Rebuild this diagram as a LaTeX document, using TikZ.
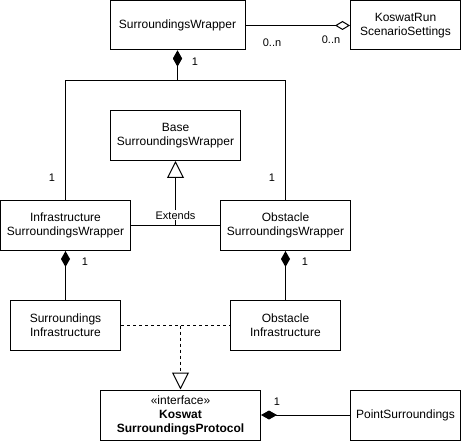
\documentclass[tikz,border=0pt]{standalone}
\usepackage{fontspec}
\setmainfont{Liberation Sans}
\usetikzlibrary{arrows.meta,positioning,calc}
\tikzstyle{cls} = [draw, line width=1pt, align=center, font=\fontsize{12}{14}\selectfont, inner sep=0pt]
\tikzstyle{mult} = [font=\fontsize{11}{13}\selectfont, inner sep=0pt]
\tikzstyle{comp} = [line width=1pt, {Diamond[length=16pt,width=9pt]}-]
\tikzstyle{aggr} = [line width=1pt, -{Diamond[open,length=15pt,width=9pt]}]
\tikzstyle{inh} = [line width=1pt, -{Triangle[open,length=17pt,width=17pt]}]
\tikzstyle{real} = [inh, dash pattern=on 3pt off 3pt]

\begin{document}
\begin{tikzpicture}[x=1pt, y=-1pt]
            \useasboundingbox (0,0) rectangle (461,441);
            \node[cls, minimum width=135pt, minimum height=49pt] (sw) at (177.5,25.5) {SurroundingsWrapper};
            \node[cls, minimum width=110pt, minimum height=49pt] (krs) at (405.5,25.5) {KoswatRun\\ScenarioSettings};
            \node[cls, minimum width=130pt, minimum height=50pt] (base) at (175.5,135.5) {Base\\SurroundingsWrapper};
            \node[cls, minimum width=130pt, minimum height=50pt] (isw) at (65.5,225.5) {Infrastructure\\SurroundingsWrapper};
            \node[cls, minimum width=130pt, minimum height=50pt] (osw) at (285.5,225.5) {Obstacle\\SurroundingsWrapper};
            \node[cls, minimum width=110pt, minimum height=50pt] (si) at (65.5,325.5) {Surroundings\\Infrastructure};
            \node[cls, minimum width=110pt, minimum height=50pt] (oi) at (285.5,325.5) {Obstacle\\Infrastructure};
            \node[cls, minimum width=160pt, minimum height=50pt] (ksp) at (180.5,415) {\guillemotleft interface\guillemotright\\\textbf{Koswat}\\\textbf{SurroundingsProtocol}};
            \node[cls, minimum width=110pt, minimum height=50pt] (ps) at (405.5,415) {PointSurroundings};

            \coordinate (j1) at (177.5,80.5);
            \coordinate (j2) at (175.5,225.5);
            \coordinate (j3) at (180.5,325.5);

            \draw[aggr] (sw) -- (krs);
            \node[mult] (m1) at (272,43) {0..n};
            \node[mult] (m2) at (331,40) {0..n};

            \draw[comp] (sw.south) -- (j1) -| (isw.north);
            \draw[comp] (sw.south) -- (j1) -| (osw.north);
            \node[mult] (m3) at (195,62) {1};
            \node[mult] (m4) at (52,178) {1};
            \node[mult] (m5) at (272,178) {1};

            \draw[line width=1pt] (isw) -- (osw);
            \draw[inh] (j2) -- node[pos=0.16, fill=white, inner sep=1pt, font=\fontsize{11}{13}\selectfont] (ext) {Extends} (base.south);

            \draw[comp] (isw) -- (si);
            \draw[comp] (osw) -- (oi);
            \node[mult] (m6) at (85,262) {1};
            \node[mult] (m7) at (305,262) {1};

            \draw[line width=1pt, dash pattern=on 3pt off 3pt] (si) -- (oi);
            \draw[real] (j3) -- (ksp.north);

            \draw[comp] (ksp) -- (ps);
            \node[mult] (m8) at (277,402) {1};
        \end{tikzpicture}
\end{document}
